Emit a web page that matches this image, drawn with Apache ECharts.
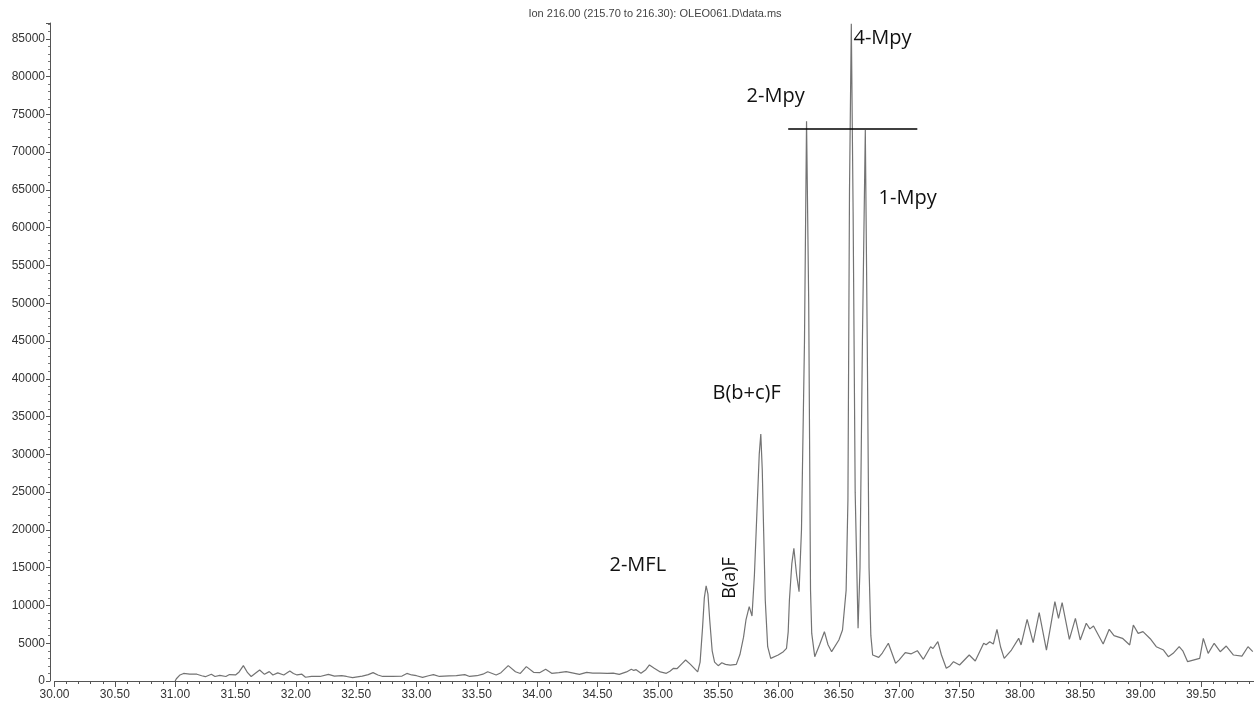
<!DOCTYPE html>
<html>
<head>
<meta charset="utf-8">
<title>Ion 216.00 chromatogram</title>
<script src="https://cdn.jsdelivr.net/npm/echarts@6/dist/echarts.min.js"></script>
<style>
  html, body { margin: 0; padding: 0; background: #ffffff; }
  #chart { width: 1254px; height: 702px; }
</style>
</head>
<body>
<div id="chart"></div>
<script>
// Extracted ion chromatogram, m/z 216 — retention time (min) vs. abundance
const retentionTime = [
  31.00, 31.01, 31.04, 31.07, 31.12, 31.18, 31.22, 31.25, 31.30, 31.33, 31.37, 31.42, 31.45, 31.50, 31.53,
  31.565, 31.60, 31.63, 31.67, 31.70, 31.74, 31.78, 31.81, 31.85, 31.90, 31.95, 31.98, 32.01, 32.05, 32.08,
  32.13, 32.20, 32.27, 32.32, 32.38, 32.42, 32.47, 32.55, 32.60, 32.64, 32.68, 32.72, 32.80, 32.88, 32.92,
  32.96, 33.00, 33.05, 33.10, 33.14, 33.19, 33.27, 33.33, 33.40, 33.44, 33.50, 33.55, 33.59, 33.66, 33.70,
  33.76, 33.82, 33.86, 33.91, 33.97, 34.02, 34.07, 34.12, 34.18, 34.24, 34.30, 34.35, 34.41, 34.46, 34.52,
  34.58, 34.63, 34.68, 34.74, 34.78, 34.80, 34.82, 34.86, 34.90, 34.93, 34.97, 35.02, 35.07, 35.10, 35.13,
  35.16, 35.20, 35.23, 35.27, 35.33, 35.35, 35.37, 35.385, 35.40, 35.415, 35.43, 35.45, 35.47, 35.50, 35.53,
  35.56, 35.60, 35.65, 35.68, 35.71, 35.73, 35.757, 35.78, 35.80, 35.82, 35.84, 35.853, 35.865, 35.877, 35.89,
  35.91, 35.935, 35.997, 36.04, 36.066, 36.08, 36.09, 36.11, 36.127, 36.15, 36.17, 36.19, 36.215, 36.232, 36.25,
  36.265, 36.275, 36.30, 36.34, 36.38, 36.41, 36.44, 36.50, 36.53, 36.56, 36.575, 36.588, 36.603, 36.618, 36.635,
  36.659, 36.675, 36.695, 36.719, 36.735, 36.75, 36.765, 36.78, 36.83, 36.86, 36.91, 36.97, 37.00, 37.05, 37.10,
  37.15, 37.20, 37.26, 37.28, 37.32, 37.35, 37.39, 37.42, 37.45, 37.50, 37.58, 37.63, 37.70, 37.72, 37.75,
  37.78, 37.81, 37.84, 37.87, 37.93, 37.99, 38.01, 38.06, 38.11, 38.16, 38.22, 38.29, 38.32, 38.35, 38.41,
  38.46, 38.50, 38.55, 38.58, 38.61, 38.69, 38.74, 38.78, 38.85, 38.91, 38.94, 38.98, 39.02, 39.08, 39.13,
  39.19, 39.23, 39.27, 39.32, 39.35, 39.39, 39.49, 39.52, 39.56, 39.61, 39.66, 39.71, 39.77, 39.84, 39.89,
  39.93
];
const abundance = [
  0, 300, 800, 1000, 900, 900, 700, 570, 900, 600, 750, 600, 850, 800, 1200,
  2030, 1100, 600, 1100, 1460, 880, 1240, 800, 1070, 800, 1330, 1000, 800, 900, 500,
  600, 600, 880, 650, 700, 600, 450, 650, 850, 1110, 800, 600, 620, 650, 1000,
  800, 700, 490, 700, 850, 600, 680, 700, 850, 600, 700, 900, 1230, 800, 1100,
  2030, 1230, 1000, 1900, 1150, 1100, 1550, 1020, 1100, 1250, 1050, 880, 1150, 1050, 1050,
  1000, 1050, 880, 1200, 1550, 1400, 1500, 1020, 1500, 2120, 1700, 1200, 1020, 1300, 1680,
  1650, 2300, 2780, 2200, 1200, 2500, 7000, 11000, 12600, 11500, 8000, 4000, 2500, 2030, 2420,
  2200, 2100, 2200, 3500, 5800, 8080, 9840, 8600, 14000, 22000, 30000, 32700, 28000, 19550, 10700,
  4540, 3000, 3440, 3880, 4330, 6500, 10700, 15500, 17570, 14000, 11830, 20000, 45000, 74100, 50000,
  12000, 6300, 3220, 4800, 6530, 4800, 3880, 5430, 6750, 12000, 24000, 65000, 87000, 62000, 25000,
  6970, 15000, 45000, 72950, 45000, 15000, 6000, 3440, 3130, 3700, 4990, 2340, 2800, 3750, 3600,
  4010, 2870, 4540, 4300, 5200, 3440, 1680, 2000, 2560, 2120, 3440, 2650, 4990, 4800, 5200,
  4900, 6840, 4500, 3000, 4100, 5650, 4770, 8170, 5070, 9040, 4100, 10500, 8300, 10370, 5520,
  8300, 5430, 7640, 6900, 7280, 4900, 6840, 6000, 5650, 4770, 7410, 6300, 6530, 5600, 4540,
  4100, 3220, 3660, 4540, 4000, 2560, 3000, 5650, 3660, 4990, 3880, 4630, 3440, 3300, 4540,
  3880
];

// Axis tick labels
const xTickLabels = ['30.00', '30.50', '31.00', '31.50', '32.00', '32.50', '33.00', '33.50', '34.00', '34.50',
  '35.00', '35.50', '36.00', '36.50', '37.00', '37.50', '38.00', '38.50', '39.00', '39.50'];
const yTickLabels = ['0', '5000', '10000', '15000', '20000', '25000', '30000', '35000', '40000', '45000',
  '50000', '55000', '60000', '65000', '70000', '75000', '80000', '85000'];

// Compound names with their anchor point (retention time, abundance)
const peakNames = ['4-Mpy', '2-Mpy', '1-Mpy', 'B(b+c)F', '2-MFL', 'B(a)F'];
const peakNameTime = [36.621, 35.735, 36.829, 35.453, 34.599, 35.598];
const peakNameLevel = [85110, 77440, 63930, 38110, 15350, 13630];
const peakNameRotate = [0, 0, 0, 0, 0, 90];

// Reference level drawn across the methylpyrene peaks
const refLineTime = [36.08, 37.15];
const refLineLevel = [73100, 73100];

const chartTitle = 'Ion 216.00 (215.70 to 216.30): OLEO061.D\\data.ms';

const chart = echarts.init(document.getElementById('chart'), null, { renderer: 'canvas' });

const tickFont = '"Liberation Sans", Arial, sans-serif';
const nameFont = '"Open Sans", "Noto Sans", sans-serif';

chart.setOption({
  animation: false,
  backgroundColor: '#ffffff',
  grid: { left: 54.5, right: 0, top: 23, bottom: 21, containLabel: false },
  graphic: [{
    type: 'text',
    x: 655,
    y: 14,
    style: {
      text: chartTitle,
      textAlign: 'center',
      textVerticalAlign: 'middle',
      font: '11px ' + tickFont,
      fill: '#444444'
    }
  }],
  xAxis: {
    type: 'value',
    min: 30,
    max: 39.94,
    interval: 0.5,
    axisLine: { lineStyle: { color: '#555555', width: 1 } },
    axisTick: { show: true, length: 6, lineStyle: { color: '#555555' } },
    minorTick: { show: true, splitNumber: 5, length: 3, lineStyle: { color: '#555555' } },
    splitLine: { show: false },
    axisLabel: {
      margin: 8,
      fontFamily: tickFont,
      fontSize: 12,
      color: '#333333',
      showMaxLabel: false,
      formatter: v => {
        const s = v.toFixed(2);
        return xTickLabels.includes(s) ? s : '';
      }
    }
  },
  yAxis: {
    type: 'value',
    min: 0,
    max: 87100,
    interval: 5000,
    offset: 4.5,
    axisLine: { show: true, lineStyle: { color: '#555555', width: 1 } },
    axisTick: { show: true, length: 4, lineStyle: { color: '#555555' } },
    minorTick: { show: true, splitNumber: 5, length: 2, lineStyle: { color: '#777777' } },
    splitLine: { show: false },
    axisLabel: {
      margin: 5,
      fontFamily: tickFont,
      fontSize: 12,
      color: '#333333',
      showMaxLabel: false,
      formatter: v => {
        const s = String(Math.round(v));
        return yTickLabels.includes(s) ? s : '';
      }
    }
  },
  series: [{
    type: 'line',
    data: retentionTime.map((t, i) => [t, abundance[i]]),
    showSymbol: false,
    symbol: 'none',
    lineStyle: { color: '#737373', width: 1.2 },
    silent: true,
    markLine: {
      silent: true,
      symbol: ['none', 'none'],
      label: { show: false },
      lineStyle: { color: '#000000', width: 1.5, type: 'solid' },
      data: [[
        { coord: [refLineTime[0], refLineLevel[0]] },
        { coord: [refLineTime[1], refLineLevel[1]] }
      ]]
    },
    markPoint: {
      silent: true,
      symbol: 'circle',
      symbolSize: 1,
      itemStyle: { color: 'rgba(0,0,0,0)' },
      data: peakNames.map((name, i) => ({
        name: name,
        coord: [peakNameTime[i], peakNameLevel[i]],
        label: {
          show: true,
          position: 'inside',
          formatter: '{b}',
          rotate: peakNameRotate[i],
          align: peakNameRotate[i] ? 'center' : 'left',
          verticalAlign: 'middle',
          fontFamily: nameFont,
          fontSize: peakNameRotate[i] ? 18 : 20,
          color: '#111111'
        }
      }))
    }
  }]
});
</script>
</body>
</html>
